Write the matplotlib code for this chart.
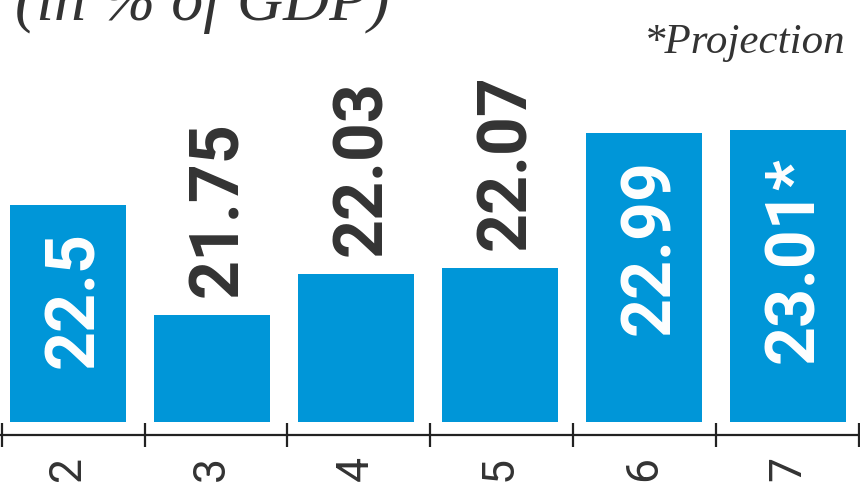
import numpy as np
import matplotlib
matplotlib.use('Agg')
import matplotlib.pyplot as plt

# data
categories = ['2', '3', '4', '5', '6', '7']
values = [22.5, 21.75, 22.03, 22.07, 22.99, 23.01]
labels = ['22.5', '21.75', '22.03', '22.07', '22.99', '23.01*']
inside = [True, False, False, False, True, True]
base = 21.02

bar_color = '#0096d8'
dark = '#333333'
num_font = ['Roboto', 'DejaVu Sans']

fig = plt.figure(figsize=(8.6, 4.84), dpi=100)
ax = fig.add_axes([0, 49 / 484, 1, 435 / 484])

x = np.arange(len(categories))
heights = [v - base for v in values]
ax.bar(x, heights, bottom=base, width=0.806, color=bar_color, zorder=2)

ax.set_xlim(-0.472, 5.5)
ax.set_ylim(20.932, 23.895)

# value labels, rotated
for xi, v, lab, ins in zip(x, values, labels, inside):
    if ins:
        ax.annotate(lab, (xi, v), xytext=(18, -19), textcoords='offset points',
                    rotation=90, rotation_mode='anchor', ha='right', va='baseline',
                    color='white', fontsize=49, fontweight='bold', family=num_font)
    else:
        ax.annotate(lab, (xi, v), xytext=(18, 13), textcoords='offset points',
                    rotation=90, rotation_mode='anchor', ha='left', va='baseline',
                    color=dark, fontsize=49, fontweight='bold', family=num_font)

# axis styling
for s in ['left', 'right', 'top']:
    ax.spines[s].set_visible(False)
ax.spines['bottom'].set_color('#222222')
ax.spines['bottom'].set_linewidth(1.6)
ax.set_yticks([])
ax.set_xticks(x)
ax.set_xticklabels(categories, rotation=90, fontsize=32, color=dark,
                   family=['Roboto', 'DejaVu Sans'])
ax.tick_params(axis='x', which='major', length=0, pad=15)
ax.set_xticks(np.linspace(-0.46, 5.49, 7), minor=True)
ax.tick_params(axis='x', which='minor', direction='inout', length=17,
               width=1.6, color='#222222')

# header texts
fig.text(15 / 860, 1 - 20 / 484, '(in % of GDP)', ha='left', va='baseline',
         fontsize=46, style='italic', color=dark, family=['Liberation Serif', 'DejaVu Serif'])
fig.text(845 / 860, 1 - 53 / 484, '*Projection', ha='right', va='baseline',
         fontsize=31, style='italic', color=dark, family=['Liberation Serif', 'DejaVu Serif'])

fig.savefig('out.png', dpi=100)
